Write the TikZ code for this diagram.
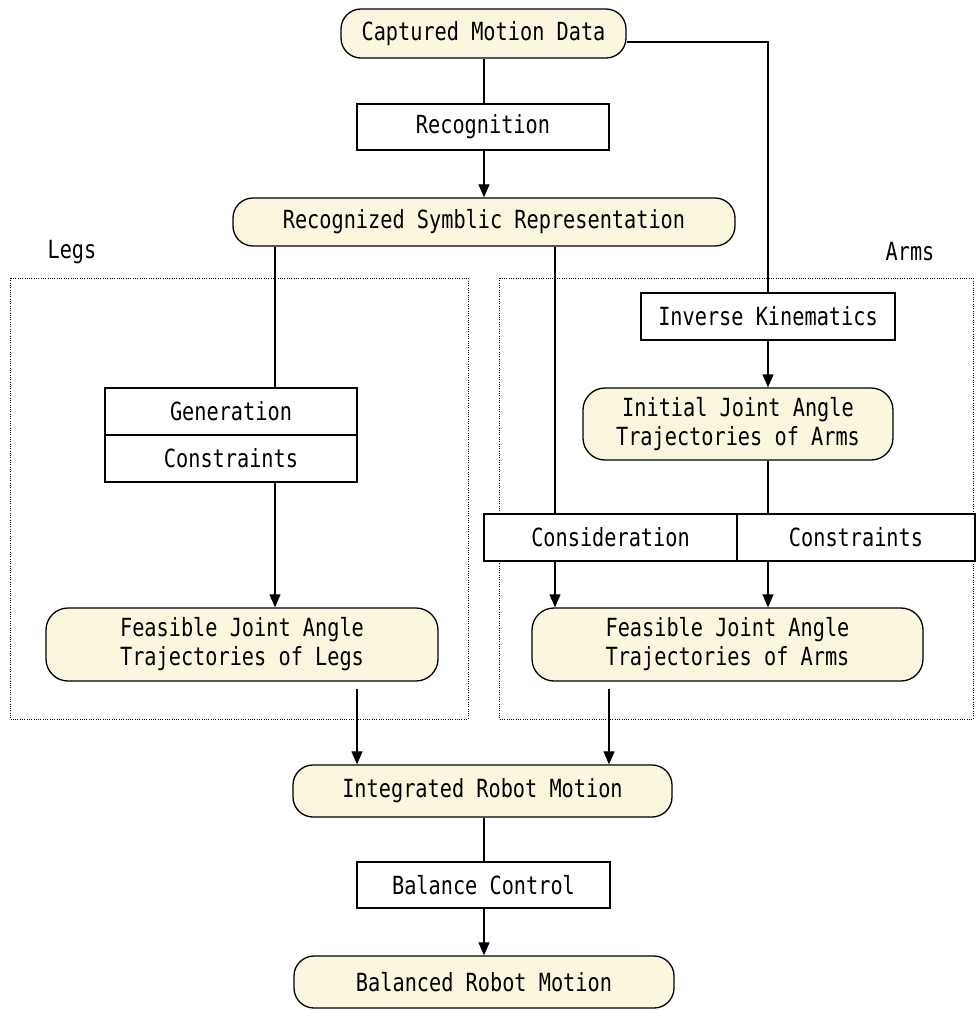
\documentclass[tikz,border=0pt]{standalone}
\usepackage{fontspec}
\setmonofont[FakeStretch=0.81]{DejaVu Sans Mono}
\usetikzlibrary{arrows.meta}
\definecolor{boxfill}{HTML}{FBF7DE}
\tikzset{
  txt/.style={font=\ttfamily\fontsize{25}{29}\selectfont, inner sep=0pt},
  state/.style={txt, draw=black, line width=1.3pt, fill=boxfill, rounded corners=20pt, align=center},
  proc/.style={txt, draw=black, line width=1.1pt, fill=white},
  group/.style={draw=black, line width=1pt, dash pattern=on 1pt off 1.3pt},
  conn/.style={line width=1.1pt},
  arr/.style={conn, -{Triangle[length=13pt,width=11pt]}}
}
\begin{document}
\begin{tikzpicture}[x=1pt,y=-1pt]
\useasboundingbox (0,0) rectangle (976,1010);
% group frames
\draw[group] (10,278) rectangle (468,719);
\draw[group] (499,278) rectangle (973,719);
\node[txt] (legs) at (72,252) {Legs};
\node[txt] (arms) at (910,252) {Arms};
% nodes
\node[state, minimum width=285pt, minimum height=49pt] (cap) at (483.5,33.5) {Captured Motion Data};
\node[proc, minimum width=252pt, minimum height=46pt] (recog) at (483,127) {Recognition};
\node[state, minimum width=502pt, minimum height=48pt] (rec) at (484,222) {Recognized Symblic Representation};
\node[proc, minimum width=252pt, minimum height=47pt] (gen) at (231,411.5) {Generation};
\node[proc, minimum width=252pt, minimum height=47pt] (gcon) at (231,458.5) {Constraints};
\node[state, minimum width=392pt, minimum height=73pt, rounded corners=22pt] (flegs) at (242,644.5) {Feasible Joint Angle\\Trajectories of Legs};
\node[proc, minimum width=254pt, minimum height=47pt] (ik) at (768,316.5) {Inverse Kinematics};
\node[state, minimum width=310pt, minimum height=72pt, rounded corners=22pt] (init) at (738,424) {Initial Joint Angle\\Trajectories of Arms};
\node[proc, minimum width=253pt, minimum height=47pt] (cons) at (610.5,537.5) {Consideration};
\node[proc, minimum width=238pt, minimum height=47pt] (acon) at (856,537.5) {Constraints};
\node[state, minimum width=391pt, minimum height=73pt, rounded corners=22pt] (farms) at (727.5,644.5) {Feasible Joint Angle\\Trajectories of Arms};
\node[state, minimum width=379pt, minimum height=52pt] (integ) at (482.5,791) {Integrated Robot Motion};
\node[proc, minimum width=253pt, minimum height=46pt] (bal) at (483.5,885) {Balance Control};
\node[state, minimum width=380pt, minimum height=52pt] (bmot) at (484,982) {Balanced Robot Motion};
% helper x positions
\coordinate (legx) at (275,0);
\coordinate (armx) at (555,0);
\coordinate (lout) at (357,0);
\coordinate (aout) at (609,0);
\coordinate (midx) at (484,0);
% connectors
\draw[conn] (cap.south -| midx) -- (recog.north -| midx);
\draw[arr] (recog.south -| midx) -- (rec.north -| midx);
\draw[conn] ([yshift=-8.5pt]cap.east) -| (ik.north);
\draw[conn] (rec.south -| legx) -- (gen.north -| legx);
\draw[arr] (gcon.south -| legx) -- (flegs.north -| legx);
\draw[conn] (rec.south -| armx) -- (cons.north -| armx);
\draw[arr] (cons.south -| armx) -- (farms.north -| armx);
\draw[arr] (ik.south) -- (init.north -| ik.south);
\draw[conn] (init.south -| ik.south) -- (acon.north -| ik.south);
\draw[arr] (acon.south -| ik.south) -- (farms.north -| ik.south);
\draw[arr, shorten <=7pt] (flegs.south -| lout) -- (integ.north -| lout);
\draw[arr, shorten <=7pt] (farms.south -| aout) -- (integ.north -| aout);
\draw[conn] (integ.south -| midx) -- (bal.north -| midx);
\draw[arr] (bal.south -| midx) -- (bmot.north -| midx);
\end{tikzpicture}
\end{document}
